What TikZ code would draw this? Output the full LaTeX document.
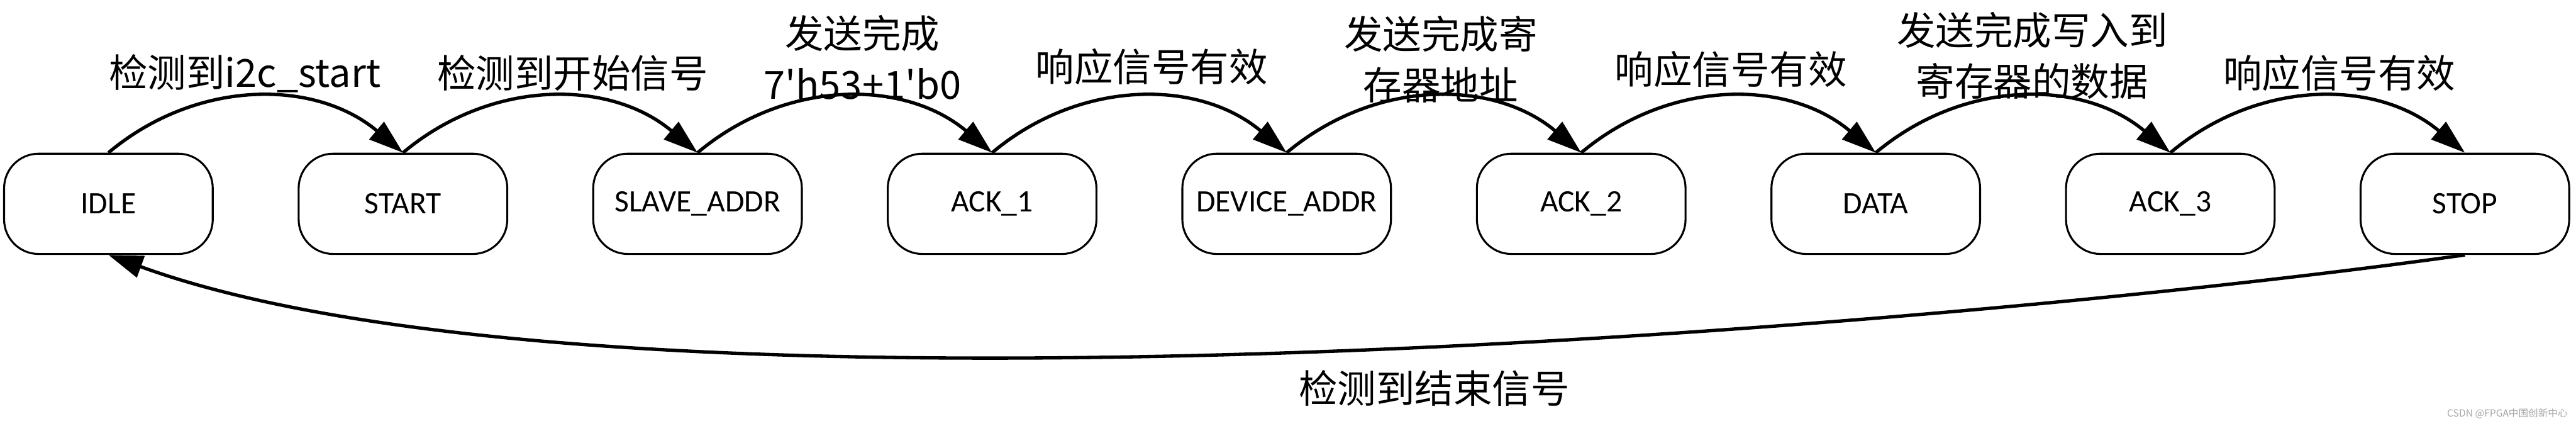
\documentclass[tikz,border=0pt]{standalone}
\usepackage{fontspec}
\setmainfont{Carlito}
\newfontfamily\cjk{Noto Sans CJK SC}
\usetikzlibrary{arrows.meta, positioning}

\begin{document}
\begin{tikzpicture}[
  node distance=2.555cm,
  every node/.style={font=\fontsize{27}{32}\selectfont},
  stbox/.style={draw, line width=1.7pt, rounded corners=1.05cm, minimum width=6.35cm, minimum height=3.05cm, inner sep=0pt},
  arrow/.style={-{Triangle[length=1.05cm, width=0.68cm]}, line width=2.9pt},
  cond/.style={font=\cjk\fontsize{33.5}{44}\selectfont, align=center, inner sep=0pt},
  wmark/.style={font=\cjk\fontsize{8.5}{10}\selectfont, text=gray!70, inner sep=0pt}
]
  \useasboundingbox (0,0) rectangle (78.4,-12.95);

  % States
  \node[stbox] (idle) at (3.3,-6.2) {IDLE};
  \node[stbox, right=of idle] (start) {START};
  \node[stbox, right=of start] (slave) {SLAVE\_ADDR};
  \node[stbox, right=of slave] (ack1) {ACK\_1};
  \node[stbox, right=of ack1] (device) {DEVICE\_ADDR};
  \node[stbox, right=of device] (ack2) {ACK\_2};
  \node[stbox, right=of ack2] (data) {DATA};
  \node[stbox, right=of data] (ack3) {ACK\_3};
  \node[stbox, right=of ack3] (stop) {STOP};

  % Conditions
  \node[cond] (c1) at (7.45,-2.23) {检测到i2c\_start};
  \node[cond] (c2) at (17.43,-2.23) {检测到开始信号};
  \node[cond] (c3) at (26.25,-1.75) {发送完成\\7'h53+1'b0};
  \node[cond] (c4) at (35.05,-2.03) {响应信号有效};
  \node[cond] (c5) at (43.85,-1.8) {发送完成寄\\存器地址};
  \node[cond] (c6) at (52.68,-2.11) {响应信号有效};
  \node[cond] (c7) at (61.85,-1.7) {发送完成写入到\\寄存器的数据};
  \node[cond] (c8) at (71.2,-2.23) {响应信号有效};
  \node[cond] (cend) at (43.65,-11.8) {检测到结束信号};

  % Transitions
  \draw[arrow] (idle.north) to[bend left=40] (start.north);
  \draw[arrow] (start.north) to[bend left=40] (slave.north);
  \draw[arrow] (slave.north) to[bend left=40] (ack1.north);
  \draw[arrow] (ack1.north) to[bend left=40] (device.north);
  \draw[arrow] (device.north) to[bend left=40] (ack2.north);
  \draw[arrow] (ack2.north) to[bend left=40] (data.north);
  \draw[arrow] (data.north) to[bend left=40] (ack3.north);
  \draw[arrow] (ack3.north) to[bend left=40] (stop.north);
  \draw[arrow] (stop.south) .. controls +(188:16.3) and +(-20:16.3) .. (idle.south);

  \node[wmark, anchor=east] (wm) at (78.15,-12.58) {CSDN @FPGA中国创新中心};

\end{tikzpicture}
\end{document}
